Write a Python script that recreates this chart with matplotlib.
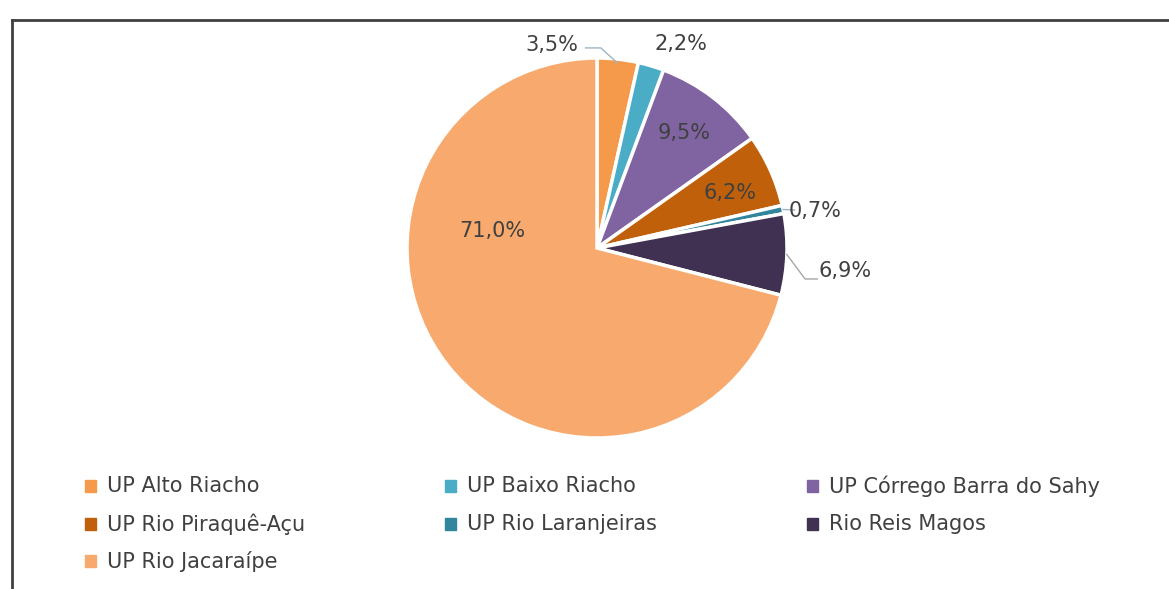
import numpy as np
import matplotlib.pyplot as plt
from matplotlib.patches import Rectangle
from matplotlib.lines import Line2D

# dados
categorias = ['UP Alto Riacho', 'UP Baixo Riacho', 'UP Córrego Barra do Sahy',
              'UP Rio Piraquê-Açu', 'UP Rio Laranjeiras', 'Rio Reis Magos',
              'UP Rio Jacaraípe']
percentuais = [3.5, 2.2, 9.5, 6.2, 0.7, 6.9, 71.0]
cores = ['#F59A4A', '#4BACC6', '#8064A2', '#C0600A', '#31859C', '#403152', '#F8AA6E']

# posicao dos rotulos (unidades do raio)
pos_rotulos = [(-0.24, 1.07), (0.44, 1.075), (0.46, 0.605), (0.70, 0.29),
               (1.15, 0.195), (1.305, -0.12), (-0.55, 0.09)]

plt.rcParams['font.family'] = ['DejaVu Sans']

fig = plt.figure(figsize=(11.69, 5.89), dpi=100)
W, H = 1169, 589

# moldura
fig.add_artist(Line2D([12 / W, 1], [1 - 20 / H, 1 - 20 / H], color='#404040', lw=2))
fig.add_artist(Line2D([12 / W, 12 / W], [0, 1 - 20 / H], color='#404040', lw=2))

cx, cy, r = 597, 248, 190
ax = fig.add_axes([(cx - r) / W, 1 - (cy + r) / H, 2 * r / W, 2 * r / H])
wedges, _ = ax.pie(percentuais, colors=cores, startangle=90, counterclock=False,
                   wedgeprops=dict(edgecolor='white', linewidth=2.5), radius=1)
ax.set_xlim(-1, 1)
ax.set_ylim(-1, 1)
ax.set_aspect('equal')
ax.axis('off')

for p, (tx, ty) in zip(percentuais, pos_rotulos):
    texto = f'{p:.1f}%'.replace('.', ',')
    ax.text(tx, ty, texto, ha='center', va='center', fontsize=15,
            color='#404040', clip_on=False)

# linhas guia
a = np.deg2rad((wedges[0].theta1 + wedges[0].theta2) / 2)
ax.plot([-0.06, 0.02, 0.98 * np.cos(a)], [1.053, 1.053, 0.98 * np.sin(a)],
        color='#9DB4C4', lw=1, clip_on=False)
a = np.deg2rad((wedges[4].theta1 + wedges[4].theta2) / 2)
ax.plot([1.0 * np.cos(a), 1.04], [1.0 * np.sin(a), 0.2],
        color='#9DB4C4', lw=1, clip_on=False)
a = np.deg2rad((wedges[5].theta1 + wedges[5].theta2) / 2)
ax.plot([1.0 * np.cos(a), 1.095, 1.16], [1.0 * np.sin(a), -0.163, -0.163],
        color='#A6A6A6', lw=1, clip_on=False)

# legenda manual (3 colunas)
col_x = [85, 445, 807]
lin_y = [486, 524, 561]
for i, (nome, c) in enumerate(zip(categorias, cores)):
    x = col_x[i % 3]
    y = lin_y[i // 3]
    fig.add_artist(Rectangle((x / W, 1 - (y + 6) / H), 11 / W, 12 / H,
                             color=c, transform=fig.transFigure))
    fig.text((x + 22) / W, 1 - y / H, nome, ha='left', va='center',
             fontsize=15, color='#404040')

fig.savefig('out.png', dpi=100)
